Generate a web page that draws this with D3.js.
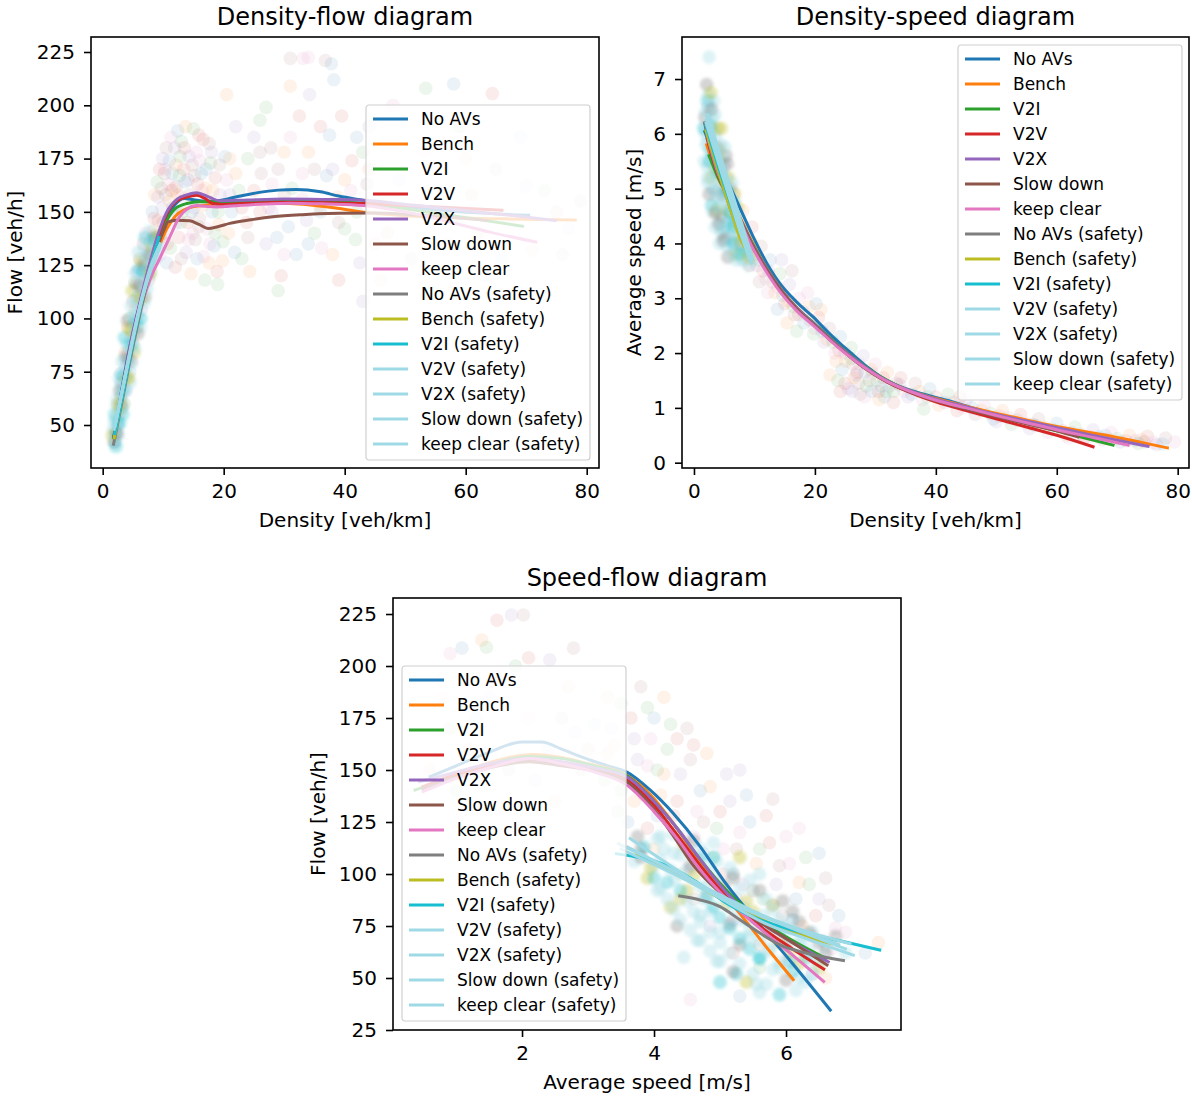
<!DOCTYPE html>
<html><head><meta charset="utf-8">
<script src="https://cdn.jsdelivr.net/npm/d3@7"></script>
<style>body{margin:0;background:#fff}svg{display:block}text{font-family:"DejaVu Sans",sans-serif;fill:#000}</style>
</head><body><svg id="c" width="1192" height="1097"><defs><filter id="soft" x="-5%" y="-5%" width="110%" height="110%"><feGaussianBlur stdDeviation="1.6"/></filter></defs></svg>
<script>
const seriesNames = ["No AVs","Bench","V2I","V2V","V2X","Slow down","keep clear","No AVs (safety)","Bench (safety)","V2I (safety)","V2V (safety)","V2X (safety)","Slow down (safety)","keep clear (safety)"];
const seriesColors = ["#1f77b4","#ff7f0e","#2ca02c","#d62728","#9467bd","#8c564b","#e377c2","#7f7f7f","#bcbd22","#17becf","#9edae5","#9edae5","#9edae5","#9edae5"];

const densityTicks = [0,20,40,60,80];
const flowTicksA = [50,75,100,125,150,175,200,225];
const speedTicksB = [0,1,2,3,4,5,6,7];
const speedTicksC = [2,4,6];
const flowTicksC = [25,50,75,100,125,150,175,200,225];

// Density-flow fitted lines [density, flow]
const flowByDensity = [
 [[1.8,44],[3,64],[4.5,87],[6,105],[7.5,121],[9,135],[10.5,146],[12,153.5],[13.5,156.3],[15,155.7],[17,155],[19,155.2],[22,157],[25.4,158.9],[29,160.2],[32,160.5],[36,159.4],[39,157.4],[43,155.5],[50,152.5],[57,150.5],[64,149.2],[70.4,148.4]],
 [[2,46],[3.2,64],[4.6,85],[6.1,104],[7.6,119],[9.1,132],[10.6,142],[12,148],[13.5,151],[14.4,152],[16.6,153],[19.9,153.9],[25,154],[30.9,153.9],[35,153],[39.1,151.6],[43.2,149.8],[50,148.2],[57,147.3],[65,146.8],[72,146.4],[78.1,146.2]],
 [[2,46],[3.2,65],[4.6,87],[6.1,106],[7.6,122],[9.1,136],[10.6,146],[12,151.5],[13.9,153.9],[16,154.7],[19,154.7],[25,155],[30.9,155.2],[37,154.8],[43,154],[50,151.5],[57,148.5],[63,146],[69.4,143.3]],
 [[2,46],[3.2,65],[4.6,87],[6.1,106],[7.6,123],[9.1,138],[10.6,149],[12.2,155],[13.9,157],[15.5,157.8],[16.9,156.3],[18.2,153.9],[19.9,153.5],[24,154],[30,154.5],[37,154.3],[43.2,153.9],[50,153],[57,152],[66,150.8]],
 [[2,46],[3.2,66],[4.6,88],[6.1,107],[7.6,124],[9.1,139],[10.6,150],[12.3,156],[13.9,158],[15.5,159],[17.7,156.8],[19.3,155.2],[24,155.6],[30,156],[37,155.8],[43,155.5],[50,153.5],[57,151.5],[66,148.8],[74.8,146]],
 [[1.9,45],[3.1,63],[4.5,84],[6,102],[7.5,118],[9,133],[10.2,142],[10.8,145.3],[12.2,146.1],[14.4,145.8],[16,144],[17.4,142.2],[19,143],[21,144.6],[24.5,146.3],[28.1,147.7],[33,148.7],[39.1,149.3],[45,149.5],[52,148.5],[58,147.3],[63.5,146]],
 [[2.1,48],[3.3,65],[4.7,86],[6.2,104],[7.8,118],[9.4,128],[11.1,138.3],[12.7,147.7],[14,151.5],[15.5,153],[17,152.6],[18.8,152.3],[22.6,153],[27,153.7],[30.9,154.1],[37,153.7],[43,153],[50,150],[57,145.5],[64,140.5],[71.6,135.9]],
 [[1.8,41],[3,58],[4.5,80],[6,100],[7.4,117],[8.6,130]],
 [[1.9,44],[3.2,63],[4.6,84],[6.1,104],[7.6,121],[8.9,134]],
 [[2,46],[3.3,64],[4.8,86],[6.3,106],[7.8,123],[9.3,138]],
 [[2,49],[3.3,67],[4.8,88],[6.3,107],[7.9,122],[9.4,133]],
 [[2.1,50],[3.4,68],[4.9,89],[6.4,108],[8,124],[9.5,135]],
 [[1.9,48],[3.2,66],[4.7,87],[6.2,106],[7.7,121],[9.2,132]],
 [[2.2,52],[3.5,70],[5,91],[6.5,110],[8,125],[9.4,134]]
];

// Density-speed fitted lines [density, speed]
const speedByDensity = [
 [[1.8,6.04],[3,5.7],[4.5,5.35],[5.95,5.04],[7.8,4.6],[9.8,4.12],[12,3.65],[14.2,3.27],[17,2.93],[19.7,2.66],[22,2.4],[24.1,2.18],[26.5,1.95],[28.6,1.75],[31,1.56],[33,1.44],[37,1.28],[41.8,1.14],[47,0.97],[52.8,0.81],[57,0.7],[63,0.56]],
 [[2.1,5.8],[2.4,5.7],[3.2,5.45],[4,5.19],[5.5,4.9],[7.5,4.5],[9.5,4.05],[12,3.55],[14.5,3.15],[17,2.83],[20,2.52],[24,2.12],[28,1.77],[32,1.49],[36,1.3],[40,1.17],[45,1.03],[50,0.9],[55,0.78],[60,0.66],[65,0.56],[70,0.46],[74,0.37],[78.3,0.27]],
 [[2.5,5.6],[4,5.2],[5.5,4.9],[7.5,4.48],[9.5,4.03],[12,3.55],[14.5,3.14],[17,2.82],[20,2.53],[24,2.13],[28,1.78],[32,1.5],[36,1.3],[40,1.15],[45,1.0],[50,0.86],[55,0.72],[60,0.58],[65,0.44],[69.3,0.32]],
 [[2.2,5.9],[4,5.25],[5.5,4.92],[7.5,4.47],[9.5,4.0],[12,3.52],[14.5,3.12],[17,2.8],[20,2.5],[24,2.1],[28,1.75],[32,1.47],[36,1.27],[40,1.11],[45,0.95],[50,0.8],[55,0.65],[60,0.5],[66,0.29]],
 [[2.2,5.95],[4,5.28],[5.5,4.93],[7.5,4.48],[9.5,4.02],[12,3.54],[14.5,3.14],[17,2.82],[20,2.52],[24,2.12],[28,1.77],[32,1.49],[36,1.3],[40,1.16],[45,1.02],[50,0.88],[55,0.76],[60,0.64],[65,0.52],[70,0.41],[75.1,0.3]],
 [[1.8,6.19],[2.5,5.8],[4,5.3],[5.5,4.92],[7.5,4.46],[9.5,4.0],[12,3.52],[14.5,3.12],[17,2.8],[20,2.5],[24,2.1],[28,1.74],[32,1.47],[36,1.28],[40,1.13],[45,0.98],[50,0.84],[55,0.71],[60,0.58],[63.5,0.47]],
 [[2.4,5.88],[4,5.28],[5.5,4.9],[7.5,4.43],[9.5,3.96],[12,3.48],[14.5,3.08],[17,2.77],[20,2.48],[24,2.09],[28,1.75],[32,1.48],[36,1.29],[40,1.14],[45,1.0],[50,0.86],[55,0.73],[60,0.6],[66,0.46],[71.8,0.32]],
 [[1.8,6.2],[3.5,5.5],[5.5,4.8],[7.5,4.2],[8.8,3.95]],
 [[2,6.05],[3.8,5.4],[5.8,4.7],[7.8,4.05],[9.2,3.8]],
 [[2,6.15],[3.9,5.45],[6,4.75],[8,4.1],[9.4,3.7]],
 [[2.1,6.25],[4,5.58],[6,4.87],[8,4.17],[9.5,3.64]],
 [[2.2,6.3],[4.1,5.62],[6.1,4.92],[8.1,4.22],[9.6,3.7]],
 [[2,6.2],[3.9,5.52],[5.9,4.82],[7.9,4.12],[9.3,3.68]],
 [[2.3,6.35],[4.2,5.66],[6.2,4.96],[8.2,4.26],[9.7,3.72]]
];

// Speed-flow fitted lines [speed, flow]
const flowBySpeed = [
 [[0.61,146.8],[1.0,152],[1.5,158.5],[2.0,163.5],[2.3,163.5],[2.6,160],[3.03,154.8],[3.3,152],[3.59,149],[3.94,140.4],[4.29,129.2],[4.7,113.2],[5.05,97.1],[5.45,81.1],[6.06,58.4],[6.67,34.6]],
 [[0.5,141],[1.0,147.5],[1.5,153.5],[2.17,157.5],[2.6,156],[3.0,153],[3.59,147.4],[3.95,138],[4.3,124],[4.65,108],[5.0,93],[5.4,77],[5.75,63],[6.11,49.2]],
 [[0.38,140.4],[1.0,147],[1.5,152.5],[2.1,156.5],[2.6,155.5],[3.1,152],[3.6,147],[4.0,135],[4.35,122],[4.7,107],[5.1,92],[5.6,78],[6.1,68],[6.6,59.5]],
 [[0.5,142],[1.0,148],[1.5,152],[2.1,155],[2.6,153.5],[3.1,150],[3.6,145],[4.0,133],[4.3,121],[4.7,104],[5.1,89],[5.6,75],[6.1,64],[6.57,54.3]],
 [[0.45,144.4],[1.0,149],[1.5,153],[2.1,155.5],[2.6,154],[3.1,151],[3.6,146.5],[4.0,135],[4.35,122],[4.7,107],[5.1,91],[5.6,77],[6.1,67],[6.64,57.8]],
 [[0.5,141],[1.0,146.5],[1.5,151],[2.1,154],[2.6,152],[3.1,149.5],[3.6,144],[4.0,131],[4.3,118],[4.6,104],[5.0,91],[5.5,79],[6.0,69],[6.62,56.3]],
 [[0.5,139.6],[1.0,146],[1.5,151],[2.12,155.5],[2.6,153],[3.1,149],[3.6,142.5],[4.0,130],[4.35,117],[4.7,102],[5.1,88],[5.6,74],[6.1,61],[6.57,48.4]],
 [[4.39,89.4],[4.7,87.5],[5.0,84.3],[5.3,78],[5.61,71.5],[5.9,66],[6.3,62],[6.87,58.4]],
 [[3.74,109.8],[4.3,101],[4.9,90],[5.5,80],[6.1,72],[6.69,66.5]],
 [[3.43,109.8],[4.24,103.4],[4.7,95],[5.1,85.9],[5.6,78],[6.11,73],[6.8,68],[7.42,63.5]],
 [[3.64,117],[4.3,103],[5.0,88.5],[5.7,76],[6.3,69],[7.02,61]],
 [[3.46,114.6],[4.2,103],[5.0,90],[5.8,78],[6.4,71.5],[6.97,66.5]],
 [[3.5,112],[4.3,100],[5.1,87],[6.0,75],[6.8,66]],
 [[3.6,113],[4.4,100],[5.2,86.5],[6.1,74],[6.9,64]]
];

// Scatter samples (density, flow)
const dfPoints = [[2.2,46],[2.6,55],[3.0,63],[3.4,70],[3.8,77],[4.2,84],[4.6,91],[5.0,97],[5.4,104],[5.8,110],[6.2,116],[6.6,122],[7.0,127],[7.4,131],[7.9,136],[8.4,141],[3.6,60],[4.8,80],[6.4,104],[7.6,118],[8.8,128],[2.9,74],[4.1,96],[5.3,117],[6.7,135],
 [2.5,50],[3.2,58],[3.9,66],[4.5,75],[5.1,88],[5.7,96],[6.3,110],[6.9,118],[7.3,125],[7.8,130],[3.0,70],[3.7,84],[4.4,100],[5.0,108],[5.6,122],[6.1,128],[7.1,140],[2.0,42],[2.4,60],[8.0,122],
 [9.2,146],[9.8,152],[10.4,158],[10.9,163],[11.5,168],[12.1,172],[12.8,176],[13.4,170],[14.1,165],[14.8,172],[15.5,178],[16.3,168],[17.0,161],[17.8,173],[18.6,166],[19.4,158],[10.1,140],[10.8,147],[11.6,152],[12.4,158],[13.2,150],[14.0,145],[15.1,152],[16.0,147],[17.2,142],[18.1,150],[19.2,144],[11.2,133],[12.6,138],[13.8,131],[15.3,137],[16.7,129],[18.4,134],[19.8,127],[13.0,183],[15.9,186],[11.9,180],[17.6,182],[9.5,130],[10.6,126],[14.6,121],[16.9,118],[18.9,122],[12.2,162],[14.4,158],[16.4,160],[13.6,164],[11.0,155],[12.9,145],[15.7,163],[17.4,155],[10.2,168],[14.9,140],
 [8.2,150],[8.6,158],[9.0,164],[9.4,170],[9.9,175],[10.5,180],[11.3,185],[12.4,188],[13.7,190],[15.0,189],[16.6,184],[18.0,178],[19.3,172],[20.5,165],[21.3,150],[20.8,140],[19.9,136],[8.5,147],[9.1,157],[9.7,161],[10.3,170],[11.0,174],[11.8,161],[12.7,167],[13.5,180],[14.3,176],[15.2,167],[16.1,174],[17.1,170],[18.2,160],[19.1,150],[10.7,135],[11.9,144],[13.0,128],[14.2,137],[15.6,128],[17.6,126],[19.0,116],[12.0,124],[9.6,138],[10.0,145],[13.1,157],[14.7,150],[16.5,153],[18.6,140],[11.4,160],[12.3,150],[15.9,143],[17.7,135],[20.2,176],
 [21,175],[22.5,160],[23.8,145],[25,185],[26.2,168],[27.5,152],[28.8,138],[30,178],[31.3,161],[32.5,195],[33.7,146],[35,170],[36.2,133],[37.5,186],[38.8,157],[40,142],[41.2,174],[42.5,126],[43.7,163],[45,148],[21.8,131],[24.3,122],[27,199],[29.5,120],[34.2,205],[36.8,221],[33.1,222],[38.2,212],[31,209],[26,193],[39.5,195],[44,190],[24,138],[28,163],[30.7,143],[35.8,153],[41.8,137],[23,152],[22,190],[27.8,180],[33,156],[37,167],[20.5,205],[29,113],[39,118],[43,108],[31,222],[34,222.5],[37.8,219.5],
 [22,168],[24,175],[26,150],[27,135],[29,170],[31,185],[32,130],[34,178],[35,140],[36,190],[38,170],[39,145],[41,160],[42,185],[44,170],[23,128],[25,160],[28,150],[30,158],[33,168],[36,150],[40,165],[42,150],[45,135],[21,158],[26,178],[30,130],[34,135],[38,130],[43,178],
 [47,140],[49,165],[51,128],[53,178],[55,150],[57,135],[59,190],[61,158],[63,120],[65,170],[67,145],[69,185],[71,132],[73,160],[75,150],[77,142],[79,155],[48,200],[58,210],[46,118],[54,112],[62,140],[70,162],[76,130],[52,155],[66,128],[60,175],[53.4,208],[64.4,205.5]];
const dfSafetyPoints = [[1.9,42],[2.1,47],[2.3,52],[2.0,55],[2.6,50],[2.8,58],[2.4,62],[3.1,60],[3.0,68],[2.7,72],[3.5,66],[3.4,75],[3.9,72],[3.2,80],[3.8,82],[4.3,79],[4.0,88],[3.6,91],[4.6,86],[4.4,95],[4.9,92],[4.1,99],[5.0,101],[4.7,106],[5.5,98],[5.3,109],[4.9,113],[5.8,106],[5.6,116],[6.1,112],[5.4,121],[6.0,123],[6.5,118],[6.3,127],[5.9,131],[6.8,125],[6.9,133],[7.3,129],[7.0,138],[7.6,136],[8.1,133],[7.8,141],[8.5,138],[8.9,135],[2.5,45],[3.3,55],[4.5,70],[5.2,84],[6.2,96],[7.0,110],[7.7,120],[8.3,127],[2.2,40],[1.8,48],
 [1.6,45],[2.0,44],[2.4,46],[1.9,52],[2.3,53],[2.8,51],[2.3,59],[2.8,60],[3.3,58],[2.8,66],[3.3,65],[3.8,67],[3.3,73],[3.8,74],[4.3,72],[3.8,80],[4.3,81],[4.8,79],[4.3,87],[4.8,88],[5.3,86],[4.8,94],[5.3,95],[5.8,93],[5.3,101],[5.8,102],[6.3,100],[5.8,108],[6.3,109],[6.8,107],[6.3,115],[6.8,116],[7.3,114],[6.8,122],[7.3,123],[7.8,121],[7.4,129],[7.9,130],[8.4,128],[8.0,136],[8.5,137],[9.0,134],[9.2,139],[8.7,132]];

// Scatter samples (density, speed)
const dsPoints = [[2.3,6.5],[2.8,6.1],[3.5,5.6],[4.2,5.0],[5.0,5.4],[5.8,4.6],[6.6,4.9],[7.4,4.2],[8.1,4.6],[8.9,3.9],[9.6,4.3],[10.4,3.6],[11.1,3.95],[11.9,3.35],[12.6,3.7],[13.4,3.1],[14.2,3.45],[15.0,2.9],[15.8,3.25],[16.6,2.7],[17.4,3.0],[18.2,2.55],[19.0,2.85],[19.8,2.35],[20.6,2.65],[21.5,2.2],[22.4,2.45],[23.3,2.0],[24.2,2.3],[25.1,1.85],[26.0,2.1],[27.0,1.65],[28.0,1.95],[29.0,1.5],[30.0,1.8],[31.0,1.4],[32.0,1.65],[33.0,1.3],[34.2,1.55],[35.4,1.2],[36.6,1.45],[37.8,1.15],[39.0,1.35],[40.5,1.05],[42.0,1.25],[43.5,0.95],[45.0,1.15],[46.5,0.88],[48.0,1.05],[49.5,0.8],[51.0,0.95],[52.5,0.7],[54.0,0.88],[55.5,0.62],[57.0,0.8],[58.5,0.55],[60.0,0.72],[61.5,0.5],[63.0,0.65],[64.5,0.45],[66.0,0.6],[67.5,0.42],[69.0,0.55],[70.5,0.38],[72.0,0.5],[73.5,0.35],[75.0,0.48],[76.5,0.33],[78.0,0.45],[79.5,0.38],
 [24.5,1.7],[26.5,1.55],[28.5,1.4],[30.5,1.3],[25.5,1.35],[27.5,1.25],[29.5,1.62],[31.5,1.2],[23.5,1.85],[26,1.9],[33,1.1],[34,1.42],[10.8,3.3],[12.2,3.1],[13.8,2.8],[15.4,2.55],[17,2.4],[9.2,3.6],[14.5,3.7],[16.2,3.5],[18.8,3.1],[20.2,2.9],[21,2.79],[38,0.98],[44,1.2],[50,0.75],[56,0.7],[62,0.45],[68,0.5],[74,0.42],
 [5.5,5.0],[6.2,4.7],[7.0,4.4],[7.8,4.3],[8.5,4.1],[9.3,3.9],[10.0,3.8],[10.7,3.7],[11.4,3.5],[12.3,3.5],[13.0,3.3],[13.9,3.2],[14.7,3.05],[15.6,2.95],[16.4,2.85],[17.3,2.7],[18.1,2.75],[19.2,2.6],[20.0,2.45],[21.2,2.4],[22.0,2.25],[23.0,2.2],[24.0,2.05],[25.0,2.0],[26.3,1.8],[27.3,1.8],[28.3,1.65],[29.3,1.7],[30.3,1.5],[31.3,1.55],[32.3,1.4],[33.5,1.45],[34.7,1.3],[36,1.25],[37.3,1.3],[38.6,1.2],[40,1.2],[41.5,1.1],[43,1.1],[44.5,1.0],[46,1.0],[47.5,0.95],[49,0.9],[50.5,0.85],[52,0.82],[53.5,0.78],[55,0.72],[56.5,0.68],[58,0.65],[59.5,0.6],[61,0.58],[62.5,0.55],[64,0.52],[65.5,0.48],[67,0.47],[68.5,0.43],[70,0.44],[71.5,0.4],[73,0.4],[74.5,0.38],[76,0.37],[77.5,0.34],
 [22.5,1.6],[23.8,1.5],[25,1.45],[26.2,1.3],[27.2,1.45],[28.2,1.2],[29.4,1.3],[30.6,1.15],[31.8,1.3],[24.2,1.3],[26.8,1.6]];
const dsSafetyPoints = [[1.8,6.3],[2.0,5.8],[2.2,5.4],[2.4,6.6],[2.6,6.0],[2.8,5.2],[3.0,6.3],[3.2,5.6],[3.4,4.95],[3.6,5.95],[3.8,5.3],[4.0,4.7],[4.2,5.7],[4.4,5.05],[4.6,4.5],[4.8,5.45],[5.0,4.85],[5.2,4.3],[5.4,5.2],[5.6,4.6],[5.8,4.1],[6.0,5.0],[6.2,4.4],[6.4,3.95],[6.6,4.75],[6.8,4.2],[7.0,3.8],[7.3,4.5],[7.6,4.0],[7.9,3.7],[8.2,4.25],[8.6,3.85],[9.0,3.6],[9.4,4.0],[9.8,3.7],[2.1,6.9],[2.5,7.4],[1.7,5.5],[2.9,4.7],[3.3,6.6],[3.9,6.1],[4.5,4.2],[5.3,5.6],[1.9,6.0],[2.3,5.1],[2.7,5.7],[3.1,5.0],[3.5,5.4],[4.1,5.2],[4.7,4.9],[5.5,4.4],[6.1,4.7],[6.7,4.4],[7.2,4.1],[3.7,4.6],[4.3,4.4],[5.1,4.1],[2.0,6.6],[2.6,6.4],[1.6,6.1],
 [2.3,6.7],[2.8,6.75],[1.9,6.4],[2.9,6.45],[3.5,6.35],[1.8,6.1],[2.8,6.15],[3.3,6.05],[4.5,6.1],[2.3,5.85],[3.9,5.75],[4.5,5.8],[5.1,5.75],[2.5,5.5],[3.0,5.45],[4.2,5.5],[4.8,5.55],[5.5,5.45],[2.2,5.2],[3.2,5.25],[4.4,5.3],[5.0,5.15],[5.7,5.2],[6.3,5.1],[2.5,4.9],[3.6,4.95],[4.2,4.85],[5.4,4.95],[6.0,4.85],[6.7,4.9],[3.0,4.6],[3.5,4.55],[4.1,4.65],[5.3,4.65],[5.9,4.55],[6.5,4.6],[7.2,4.65],[3.5,4.3],[4.1,4.35],[4.7,4.25],[5.3,4.3],[6.5,4.3],[7.1,4.35],[7.7,4.3],[4.2,4.0],[4.8,4.05],[5.4,3.95],[6.0,4.05],[6.6,4.0],[7.2,3.95],[7.8,4.05],[8.3,4.0],[5.6,3.75],[6.3,3.8],[7.0,3.7],[7.7,3.8],[8.4,3.7],[9.1,3.75]];

// Scatter samples (speed, flow)
const sfPoints = [[3.1,172],[3.3,158],[3.5,182],[3.6,145],[3.7,165],[3.8,190],[3.9,152],[4.0,175],[4.1,138],[4.2,160],[4.3,128],[4.4,148],[4.5,170],[4.6,118],[4.7,140],[4.8,158],[4.9,108],[5.0,130],[5.1,148],[5.2,100],[5.3,120],[5.4,138],[5.5,92],[5.6,112],[5.7,128],[5.8,85],[5.9,104],[6.0,118],[6.1,78],[6.2,96],[6.3,108],[6.4,70],[6.5,88],[6.6,98],[6.7,64],[6.8,80],[4.15,185],[3.45,130],[3.9,122],[4.55,102],[5.25,88],[5.9,70],[6.35,58],[6.6,50],[5.6,55],[5.2,62],[4.85,75],[4.6,88],[6.9,72],[7.2,62],[7.4,67],[3.25,145],[3.0,160],[2.8,168],[2.6,175],[4.55,39.6],[5.3,41.3],[3.7,135],[4.05,150],[4.35,165],[3.35,170],[4.75,125],[5.05,112],
 [3.2,150],[3.4,162],[3.5,140],[3.65,175],[3.75,155],[3.85,138],[3.95,165],[4.05,128],[4.15,148],[4.25,172],[4.35,135],[4.45,118],[4.55,155],[4.65,130],[4.75,110],[4.85,142],[4.95,122],[5.05,100],[5.15,135],[5.25,112],[5.35,95],[5.45,125],[5.55,105],[5.65,88],[5.75,115],[5.85,95],[5.95,80],[6.05,105],[6.15,88],[6.25,75],[6.35,95],[6.45,80],[6.55,68],[6.65,85],[6.75,74],[3.6,125],[4.0,112],[4.4,100],[4.8,90],[5.2,78],[5.6,66],[6.0,58],[6.4,52],[3.3,185],[3.9,180],[4.6,162],[5.3,150],[5.8,136],[6.2,122],[6.5,110],
 [0.6,150],[0.9,170],[1.2,160],[1.5,185],[1.8,150],[2.1,175],[2.4,160],[2.7,190],[1.0,140],[1.6,195],[2.2,145],[2.9,150],[0.8,185],[1.3,175],[2.5,135],[1.9,200],[1.62,222],[1.84,224.5],[2.02,224.5],[0.91,206],[1.09,208.6],[1.39,212.5],[1.46,209],[2.1,204],[2.42,203],[2.78,208.6]];
const sfSafetyPoints = [[3.8,112],[4.0,104],[4.1,118],[4.2,96],[4.3,110],[4.4,88],[4.5,102],[4.6,116],[4.7,80],[4.8,94],[4.9,108],[5.0,72],[5.1,86],[5.2,100],[5.3,66],[5.4,78],[5.5,92],[5.6,60],[5.7,72],[5.8,85],[5.9,55],[6.0,66],[6.1,78],[6.2,50],[6.3,60],[6.4,72],[6.5,55],[6.6,65],[4.35,75],[4.65,68],[4.95,58],[5.25,52],[5.55,47],[4.25,84],[4.75,88],[5.05,94],[5.35,84],[5.65,80],[5.95,74],[6.25,68],[4.5,92],[4.85,82],[5.15,76],[5.45,70],[5.75,64],[6.05,58],[4.05,92],[3.9,98],[3.7,106],[6.75,70],[6.9,62],[4.45,60],[5.0,48],[5.6,100],[5.3,108],[4.9,115],
 [3.75,118],[4.05,117],[4.3,119],[3.85,113],[4.15,112],[4.45,114],[4.7,112],[3.8,108],[4.1,107],[4.4,109],[4.7,107],[4.95,106],[3.95,103],[4.25,102],[4.55,104],[4.85,102],[5.15,103],[4.0,98],[4.3,97],[4.6,99],[4.9,97],[5.2,98],[5.45,97],[4.1,93],[4.4,92],[4.7,94],[5.0,92],[5.3,93],[5.6,92],[4.2,88],[4.5,87],[4.8,89],[5.1,88],[5.4,87],[5.7,88],[5.95,87],[4.3,83],[4.6,82],[4.9,84],[5.2,83],[5.5,82],[5.8,83],[6.1,82],[4.4,78],[4.7,77],[5.0,79],[5.3,78],[5.6,77],[5.9,78],[6.2,77],[4.55,73],[4.85,72],[5.15,74],[5.45,73],[5.75,72],[6.05,73],[6.35,72],[4.7,68],[5.0,67],[5.3,69],[5.6,68],[5.9,67],[6.2,68],[6.5,67],[4.85,63],[5.15,62],[5.45,64],[5.75,63],[6.05,62],[6.35,63],[6.6,62],[5.0,58],[5.3,57],[5.6,59],[5.9,58],[6.2,57],[6.5,58],[5.2,53],[5.5,52],[5.8,54],[6.1,53],[6.4,52],[5.4,48],[5.7,47],[6.0,49],[6.3,48],[5.6,43],[5.9,42],[6.15,44]];

const svg = d3.select("#c");
const mainColors = seriesColors.slice(0,7);
const safetyColors = seriesColors.slice(7);

function panel(o){
  const x = d3.scaleLinear().domain(o.xd).range([o.l,o.r]);
  const y = d3.scaleLinear().domain(o.yd).range([o.b,o.t]);
  const g = svg.append("g");
  const cid = "clip"+o.id;
  svg.append("clipPath").attr("id",cid).append("rect")
    .attr("x",o.l).attr("y",o.t).attr("width",o.r-o.l).attr("height",o.b-o.t);
  const plot = g.append("g").attr("clip-path",`url(#${cid})`);
  plot.append("g").selectAll("circle").data(o.pts).join("circle")
    .attr("cx",d=>x(d[0])).attr("cy",d=>y(d[1])).attr("r",6.8)
    .attr("fill",(d,i)=>mainColors[i%7]).attr("fill-opacity",0.09);
  plot.append("g").attr("filter","url(#soft)").selectAll("circle").data(o.spts).join("circle")
    .attr("cx",d=>x(d[0])).attr("cy",d=>y(d[1])).attr("r",6.8)
    .attr("fill",(d,i)=>safetyColors[(i*3)%7]).attr("fill-opacity",0.33);
  const line = d3.line().x(d=>x(d[0])).y(d=>y(d[1])).curve(d3.curveMonotoneX);
  plot.append("g").selectAll("path").data(o.lines).join("path")
    .attr("d",line).attr("fill","none").attr("stroke",(d,i)=>seriesColors[i])
    .attr("stroke-width",3).attr("stroke-linecap","square");
  const ax = g.append("g").attr("transform",`translate(0,${o.b})`)
    .call(d3.axisBottom(x).tickValues(o.xt).tickSize(7).tickPadding(9).tickFormat(d3.format("d")));
  const ay = g.append("g").attr("transform",`translate(${o.l},0)`)
    .call(d3.axisLeft(y).tickValues(o.yt).tickSize(7).tickPadding(9).tickFormat(d3.format("d")));
  [ax,ay].forEach(a=>{
    a.select(".domain").remove();
    a.selectAll(".tick line").attr("stroke","#000").attr("stroke-width",1.6);
    a.selectAll("text").attr("font-size",20).attr("font-family","DejaVu Sans").attr("fill","#000");
  });
  g.append("rect").attr("x",o.l).attr("y",o.t).attr("width",o.r-o.l).attr("height",o.b-o.t)
    .attr("fill","none").attr("stroke","#000").attr("stroke-width",1.6);
  g.append("text").attr("x",(o.l+o.r)/2).attr("y",o.t-12).attr("text-anchor","middle")
    .attr("font-size",24).text(o.title);
  g.append("text").attr("x",(o.l+o.r)/2).attr("y",o.b+59).attr("text-anchor","middle")
    .attr("font-size",20).text(o.xl);
  g.append("text").attr("transform",`translate(${o.ylx},${(o.t+o.b)/2}) rotate(-90)`)
    .attr("text-anchor","middle").attr("font-size",20).text(o.yl);
  const lg = g.append("g").attr("transform",`translate(${o.lgx},${o.lgy})`);
  lg.append("rect").attr("x",0).attr("y",0).attr("width",224).attr("height",355).attr("rx",3)
    .attr("fill","#fff").attr("fill-opacity",0.8).attr("stroke","#d0d0d0").attr("stroke-width",1.2);
  const it = lg.selectAll("g.it").data(seriesNames).join("g").attr("class","it")
    .attr("transform",(d,i)=>`translate(0,${14+25*i})`);
  it.append("line").attr("x1",7).attr("x2",42).attr("y1",0).attr("y2",0)
    .attr("stroke",(d,i)=>seriesColors[i]).attr("stroke-width",3);
  it.append("text").attr("x",55).attr("y",6).attr("font-size",17).text(d=>d);
}

panel({id:1,l:91,r:599,t:37,b:468,xd:[-1.93,82.03],yd:[29.83,232.04],xt:densityTicks,yt:flowTicksA,
  pts:dfPoints,spts:dfSafetyPoints,lines:flowByDensity,title:"Density-flow diagram",
  xl:"Density [veh/km]",yl:"Flow [veh/h]",ylx:22,lgx:366,lgy:105});
panel({id:2,l:682,r:1189,t:37,b:468,xd:[-1.98,81.87],yd:[-0.097,7.767],xt:densityTicks,yt:speedTicksB,
  pts:dsPoints,spts:dsSafetyPoints,lines:speedByDensity,title:"Density-speed diagram",
  xl:"Density [veh/km]",yl:"Average speed [m/s]",ylx:641,lgx:958,lgy:45});
panel({id:3,l:393,r:901,t:598,b:1030,xd:[0.045,7.742],yd:[25,232.7],xt:speedTicksC,yt:flowTicksC,
  pts:sfPoints,spts:sfSafetyPoints,lines:flowBySpeed,title:"Speed-flow diagram",
  xl:"Average speed [m/s]",yl:"Flow [veh/h]",ylx:325,lgx:402,lgy:666});
</script></body></html>
